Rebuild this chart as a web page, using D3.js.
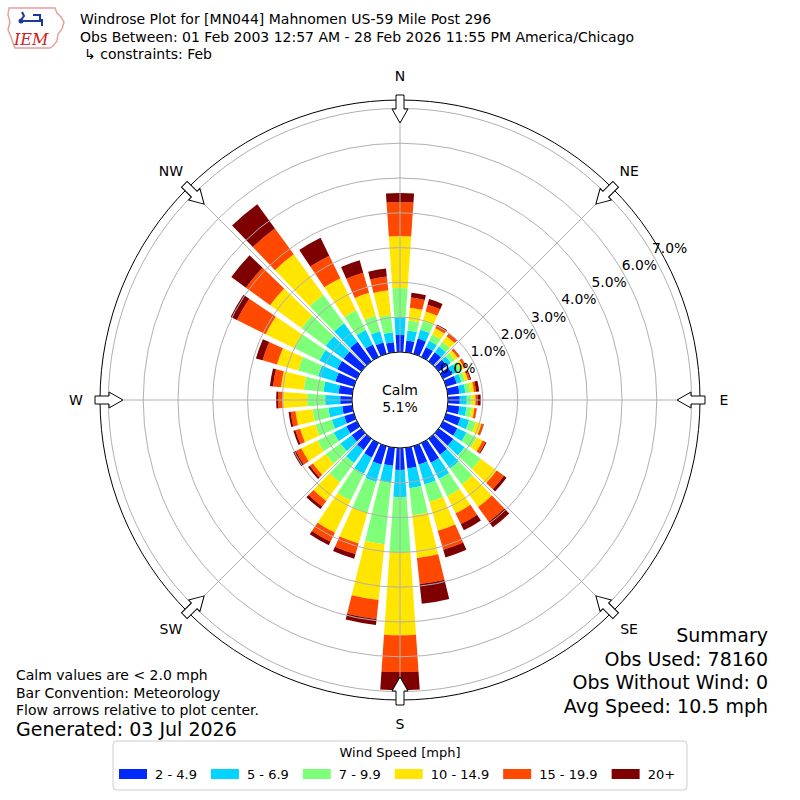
<!DOCTYPE html>
<html>
<head>
<meta charset="utf-8">
<script src="https://cdn.jsdelivr.net/npm/d3@7"></script>
<style>
body { margin: 0; background: #fff; }
text { font-family: "DejaVu Sans", sans-serif; fill: #000; }
</style>
</head>
<body>
<div id="chart"></div>
<script>
// wind directions (deg, meteorological) and speed bins
var directions = [0, 10, 20, 30, 40, 50, 60, 70, 80, 90, 100, 110, 120, 130, 140, 150, 160, 170,
                  180, 190, 200, 210, 220, 230, 240, 250, 260, 270, 280, 290, 300, 310, 320, 330, 340, 350];
var speedBins = ["2 - 4.9", "5 - 6.9", "7 - 9.9", "10 - 14.9", "15 - 19.9", "20+"];
var binColors = ["#0028ff", "#00d4ff", "#7dff7a", "#ffe500", "#ff4800", "#7f0000"];

// percent of obs per direction, one array per speed bin
var bin2 = [0.49, 0.34, 0.46, 0.32, 0.32, 0.29, 0.29, 0.32, 0.34, 0.34, 0.34, 0.43, 0.46, 0.52, 0.57, 0.63, 0.55, 0.60,
            0.63, 0.52, 0.55, 0.46, 0.40, 0.34, 0.34, 0.29, 0.29, 0.34, 0.40, 0.55, 0.63, 0.63, 0.69, 0.40, 0.34, 0.29];
var bin5 = [0.52, 0.29, 0.26, 0.20, 0.20, 0.14, 0.17, 0.14, 0.17, 0.20, 0.20, 0.26, 0.29, 0.40, 0.49, 0.52, 0.60, 0.57,
            0.78, 0.49, 0.52, 0.52, 0.46, 0.40, 0.40, 0.37, 0.40, 0.43, 0.43, 0.52, 0.57, 0.63, 0.66, 0.46, 0.34, 0.29];
var bin7 = [0.83, 0.29, 0.26, 0.20, 0.17, 0.14, 0.11, 0.11, 0.14, 0.14, 0.14, 0.20, 0.32, 0.57, 0.57, 0.55, 0.52, 0.78,
            1.58, 1.78, 0.92, 0.86, 0.69, 0.52, 0.52, 0.49, 0.46, 0.52, 0.57, 0.60, 0.80, 0.86, 1.01, 0.63, 0.46, 0.49];
var bin10 = [1.49, 0.37, 0.29, 0.20, 0.20, 0.11, 0.11, 0.09, 0.11, 0.11, 0.09, 0.17, 0.20, 0.57, 0.80, 0.55, 0.86, 1.24,
             2.39, 1.61, 0.92, 1.03, 0.66, 0.46, 0.52, 0.46, 0.49, 0.69, 0.66, 0.63, 0.92, 1.12, 1.44, 1.03, 0.69, 0.72];
var bin15 = [0.98, 0.29, 0.20, 0.09, 0.09, 0.06, 0.07, 0.06, 0.06, 0.06, 0.06, 0.06, 0.09, 0.26, 0.52, 0.34, 0.57, 0.75,
             1.06, 0.55, 0.32, 0.29, 0.20, 0.11, 0.17, 0.14, 0.14, 0.14, 0.23, 0.43, 0.92, 0.86, 0.92, 0.72, 0.60, 0.40];
var bin20 = [0.26, 0.14, 0.17, 0.03, 0.01, 0.01, 0.01, 0.03, 0.09, 0.09, 0.01, 0.01, 0.03, 0.09, 0.20, 0.20, 0.23, 0.57,
             0.52, 0.17, 0.14, 0.11, 0.09, 0.06, 0.09, 0.06, 0.06, 0.06, 0.09, 0.20, 0.20, 0.52, 0.86, 0.57, 0.37, 0.23];
var speedValues = [bin2, bin5, bin7, bin10, bin15, bin20];

var rTicks = [0, 1, 2, 3, 4, 5, 6, 7];
var compass = ["N", "NE", "E", "SE", "S", "SW", "W", "NW"];
var calmPct = "5.1%";

var titleLines = ["Windrose Plot for [MN044] Mahnomen US-59 Mile Post 296",
                  "Obs Between: 01 Feb 2003 12:57 AM - 28 Feb 2026 11:55 PM America/Chicago"];
var constraintLine = "\u21B3 constraints: Feb";
var noteLines = ["Calm values are < 2.0 mph", "Bar Convention: Meteorology", "Flow arrows relative to plot center."];
var generated = "Generated: 03 Jul 2026";
var summaryLines = ["Summary", "Obs Used: 78160", "Obs Without Wind: 0", "Avg Speed: 10.5 mph"];

// svg
var svg = d3.select("#chart")
    .append("svg")
    .attr("width", 800)
    .attr("height", 800);

var cx = 400, cy = 400;
var rOuter = 300;
var rscale = d3.scaleLinear().domain([0, 7]).range([48, 291.6]);
var rad = Math.PI / 180;

var plot = svg.append("g")
    .attr("transform", `translate(${cx}, ${cy})`);

// stack the bins per direction
var segments = [];
directions.forEach(function (dir, i) {
    var cum = 0;
    speedValues.forEach(function (vals, j) {
        segments.push({ dir: dir, bin: j, lo: cum, hi: cum + vals[i] });
        cum += vals[i];
    });
});

var halfW = 3.9 * rad;
var arc = d3.arc();
plot.selectAll("path.bar")
    .data(segments)
    .enter()
    .append("path")
    .attr("class", "bar")
    .attr("d", d => arc({
        innerRadius: rscale(d.lo),
        outerRadius: rscale(d.hi),
        startAngle: d.dir * rad - halfW,
        endAngle: d.dir * rad + halfW
    }))
    .attr("fill", d => binColors[d.bin]);

// grid on top of bars
plot.selectAll("circle.ring")
    .data(rTicks)
    .enter()
    .append("circle")
    .attr("r", d => rscale(d))
    .attr("fill", "none")
    .attr("stroke", "#b0b0b0")
    .attr("stroke-width", 1);

plot.selectAll("line.spoke")
    .data(d3.range(0, 360, 45))
    .enter()
    .append("line")
    .attr("x1", 0).attr("y1", 0)
    .attr("x2", d => rOuter * Math.sin(d * rad))
    .attr("y2", d => -rOuter * Math.cos(d * rad))
    .attr("stroke", "#b0b0b0")
    .attr("stroke-width", 1);

plot.append("circle")
    .attr("r", rOuter)
    .attr("fill", "none")
    .attr("stroke", "#000")
    .attr("stroke-width", 1);

// percent labels
plot.selectAll("text.rlab")
    .data(rTicks)
    .enter()
    .append("text")
    .attr("x", d => (rscale(d) + 18.5) * Math.sin(60.4 * rad))
    .attr("y", d => -(rscale(d) + 18.5) * Math.cos(60.4 * rad) + 1)
    .attr("text-anchor", "middle")
    .attr("dominant-baseline", "central")
    .style("font-size", "13.9px")
    .text(d => d.toFixed(1) + "%");

// calm circle
plot.append("circle")
    .attr("r", rscale(0))
    .attr("fill", "#fff")
    .attr("stroke", "#000")
    .attr("stroke-width", 1);
plot.append("text")
    .attr("y", -10)
    .attr("text-anchor", "middle")
    .attr("dominant-baseline", "central")
    .style("font-size", "14px")
    .text("Calm");
plot.append("text")
    .attr("y", 7)
    .attr("text-anchor", "middle")
    .attr("dominant-baseline", "central")
    .style("font-size", "14px")
    .text(calmPct);

// flow arrows pointing to the center
var arrowPts = [[0, -277], [8, -291], [4, -291], [4, -305], [-4, -305], [-4, -291], [-8, -291]];
plot.selectAll("path.arrow")
    .data(compass)
    .enter()
    .append("path")
    .attr("d", "M" + arrowPts.join("L") + "Z")
    .attr("transform", (d, i) => `rotate(${i * 45})`)
    .attr("fill", "#fff")
    .attr("stroke", "#000")
    .attr("stroke-width", 1);

plot.selectAll("text.compass")
    .data(compass)
    .enter()
    .append("text")
    .attr("x", (d, i) => 324 * Math.sin(i * 45 * rad))
    .attr("y", (d, i) => -324 * Math.cos(i * 45 * rad))
    .attr("text-anchor", "middle")
    .attr("dominant-baseline", "central")
    .style("font-size", "14px")
    .text(d => d);

// header
var logo = svg.append("g");
logo.append("path")
    .attr("d", "M9,8 L55,8 L57,13 L61,17 L64,22 L62,29 L58,34 L57,41 L53,46 L50,48 L15,48 L13,43 L11,37 L8,30 L10,22 L8,15 Z")
    .attr("fill", "#fff")
    .attr("stroke", "#e8a0a0")
    .attr("stroke-width", 1.5);
logo.append("path")
    .attr("d", "M20,21 L42,21 M33,15 L40,15 L40,21 M42,19 L42,26 M22,12 L24,16 L21,20")
    .attr("fill", "none")
    .attr("stroke", "#1a3aa0")
    .attr("stroke-width", 2);
logo.append("circle").attr("cx", 21).attr("cy", 21).attr("r", 2.5).attr("fill", "#1a3aa0");
logo.append("text")
    .attr("x", 14).attr("y", 45)
    .style("font-family", "'DejaVu Serif', serif")
    .style("font-style", "italic")
    .style("font-size", "16px")
    .style("fill", "#d02020")
    .text("IEM");

svg.selectAll("text.title")
    .data(titleLines)
    .enter()
    .append("text")
    .attr("x", 80)
    .attr("y", (d, i) => 24 + i * 18)
    .style("font-size", "14px")
    .text(d => d);
svg.append("text")
    .attr("x", 84).attr("y", 59)
    .style("font-size", "14px")
    .text(constraintLine);

// notes bottom left
svg.selectAll("text.note")
    .data(noteLines)
    .enter()
    .append("text")
    .attr("x", 16)
    .attr("y", (d, i) => 680 + i * 17.5)
    .style("font-size", "14px")
    .text(d => d);
svg.append("text")
    .attr("x", 16).attr("y", 736)
    .style("font-size", "19px")
    .text(generated);

// summary bottom right
svg.selectAll("text.summary")
    .data(summaryLines)
    .enter()
    .append("text")
    .attr("x", 768)
    .attr("y", (d, i) => 642 + i * 23.5)
    .attr("text-anchor", "end")
    .style("font-size", "19px")
    .text(d => d);

// legend
var legend = svg.append("g");
legend.append("rect")
    .attr("x", 113).attr("y", 741)
    .attr("width", 574).attr("height", 49)
    .attr("rx", 4)
    .attr("fill", "#fff")
    .attr("stroke", "#cccccc");
legend.append("text")
    .attr("x", 400).attr("y", 757)
    .attr("text-anchor", "middle")
    .style("font-size", "13px")
    .text("Wind Speed [mph]");

var lx = 119;
speedBins.forEach(function (lab, i) {
    legend.append("rect")
        .attr("x", lx).attr("y", 769)
        .attr("width", 28).attr("height", 10)
        .attr("fill", binColors[i]);
    var t = legend.append("text")
        .attr("x", lx + 36).attr("y", 779)
        .style("font-size", "13px")
        .text(lab);
    lx = lx + 36 + t.node().getComputedTextLength() + 14;
});
</script>
</body>
</html>
